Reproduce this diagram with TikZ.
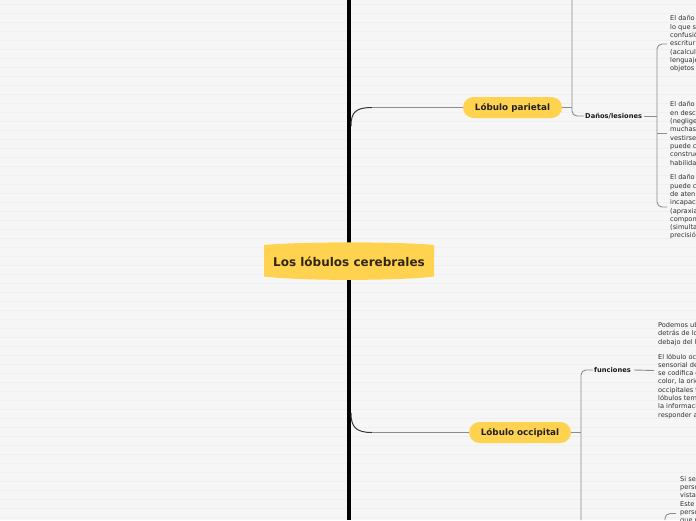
\documentclass[tikz,border=0pt]{standalone}
\usepackage{fontspec}
\setmainfont{DejaVu Sans}
\usetikzlibrary{calc}
\definecolor{bg}{RGB}{246,246,246}
\definecolor{stripe}{RGB}{240,240,240}
\definecolor{yel}{RGB}{255,211,79}
\definecolor{roottxt}{RGB}{50,38,18}
\definecolor{conn}{RGB}{140,140,140}
\definecolor{connd}{RGB}{55,55,55}
\begin{document}
\begin{tikzpicture}[x=1pt,y=-1pt,
  pill/.style={fill=yel, rounded corners=10.5pt, minimum height=21pt, inner sep=0pt,
    font=\bfseries\fontsize{8.8}{10}\selectfont, text=black!88},
  sub/.style={font=\bfseries\fontsize{6.7}{8}\selectfont, inner sep=1pt, text=black!90, anchor=west},
  leaf/.style={font=\fontsize{6.6}{8.3}\selectfont, align=left, inner sep=0pt, anchor=west, text=black!82},
  conline/.style={draw=conn, line width=0.9pt},
  trunkcurve/.style={draw=connd, line width=1pt},
  ]
\useasboundingbox (0,0) rectangle (696,520);
\clip (0,0) rectangle (696,520);
\fill[bg] (0,0) rectangle (696,520);
\foreach \k in {0,...,58} \draw[stripe, line width=0.6pt] (0,{4+9*\k}) -- (696,{4+9*\k});

% trunk
\coordinate (tt) at (349,0);
\coordinate (tb) at (349,520);
\draw[line width=4pt] (tt) -- (tb);

% root
\fill[yel] (264,245) .. controls (300,241.5) and (398,241.5) .. (434,245)
  -- (434,276.5) .. controls (398,281) and (300,281) .. (264,276.5) -- cycle;
\node[font=\bfseries\fontsize{12}{14}\selectfont, text=roottxt, inner sep=0pt] (root) at (349,262) {Los lóbulos cerebrales};

% main branches
\node[pill, minimum width=99pt] (par) at (512.5,107.5) {Lóbulo parietal};
\node[pill, minimum width=102pt] (occ) at (520,432.5) {Lóbulo occipital};

\coordinate (pj) at (351,126);
\coordinate (pk) at (372,107.5);
\draw[trunkcurve] (pj) .. controls (351,112) and (356,107.5) .. (pk);
\draw[conline] (pk) -- (par.west);

\coordinate (oj) at (351,413);
\coordinate (ok) at (372,432.5);
\draw[trunkcurve] (oj) .. controls (351,427) and (356,432.5) .. (ok);
\draw[conline] (ok) -- (occ.west);

% parietal children
\node[sub] (dan) at (584,116) {Daños/lesiones};
\coordinate (ps) at (572,0);
\draw[conline] (par.east) -- (ps |- par.east);
\draw[conline, rounded corners=5pt] (ps) |- (dan.west);

\node[leaf] (l1) at (670,44) {El daño\\lo que s\\confusió\\escritur\\(acalculi\\lenguaje\\objetos};
\node[leaf] (l2) at (670,133.5) {El daño\\en desc\\(neglige\\muchas\\vestirse\\puede c\\construc\\habilidad};
\node[leaf] (l3) at (670,207) {El daño\\puede c\\de aten\\incapaci\\(apraxia\\compon\\(simulta\\precisió};

\coordinate (b1) at (657,116);
\draw[conline] ($(dan.east)+(1,0)$) -- (b1);
\draw[conline, rounded corners=5pt] ($(l1.west)+(-3,0)$) -| (b1) |- ($(l3.west)+(-3,0)$);
\draw[conline] (b1 |- l2.west) -- ($(l2.west)+(-3,0)$);

% occipital children
\node[sub] (fun) at (593,370) {funciones};
\coordinate (os) at (581,520);
\draw[conline] (occ.east) -- (os |- occ.east);
\draw[conline, rounded corners=5pt] (os) |- (fun.west);

\node[leaf] (l4) at (658,370.5) {Podemos ub\\detrás de lo\\debajo del h\\[6.7pt]El lóbulo occ\\sensorial de\\se codifica e\\color, la orie\\occipitales t\\lóbulos tem\\la informaci\\responder a};
\draw[conline] ($(fun.east)+(2,0)$) -- ($(l4.west)+(-4,0)$);

\node[leaf, anchor=north west] (l5) at (680,476) {Si se\\perso\\vista\\Este\\perso\\que p};
\coordinate (b5) at (665,520);
\coordinate (t5) at (676,513.5);
\draw[conline, rounded corners=5pt] (b5) |- (t5);
\end{tikzpicture}
\end{document}
